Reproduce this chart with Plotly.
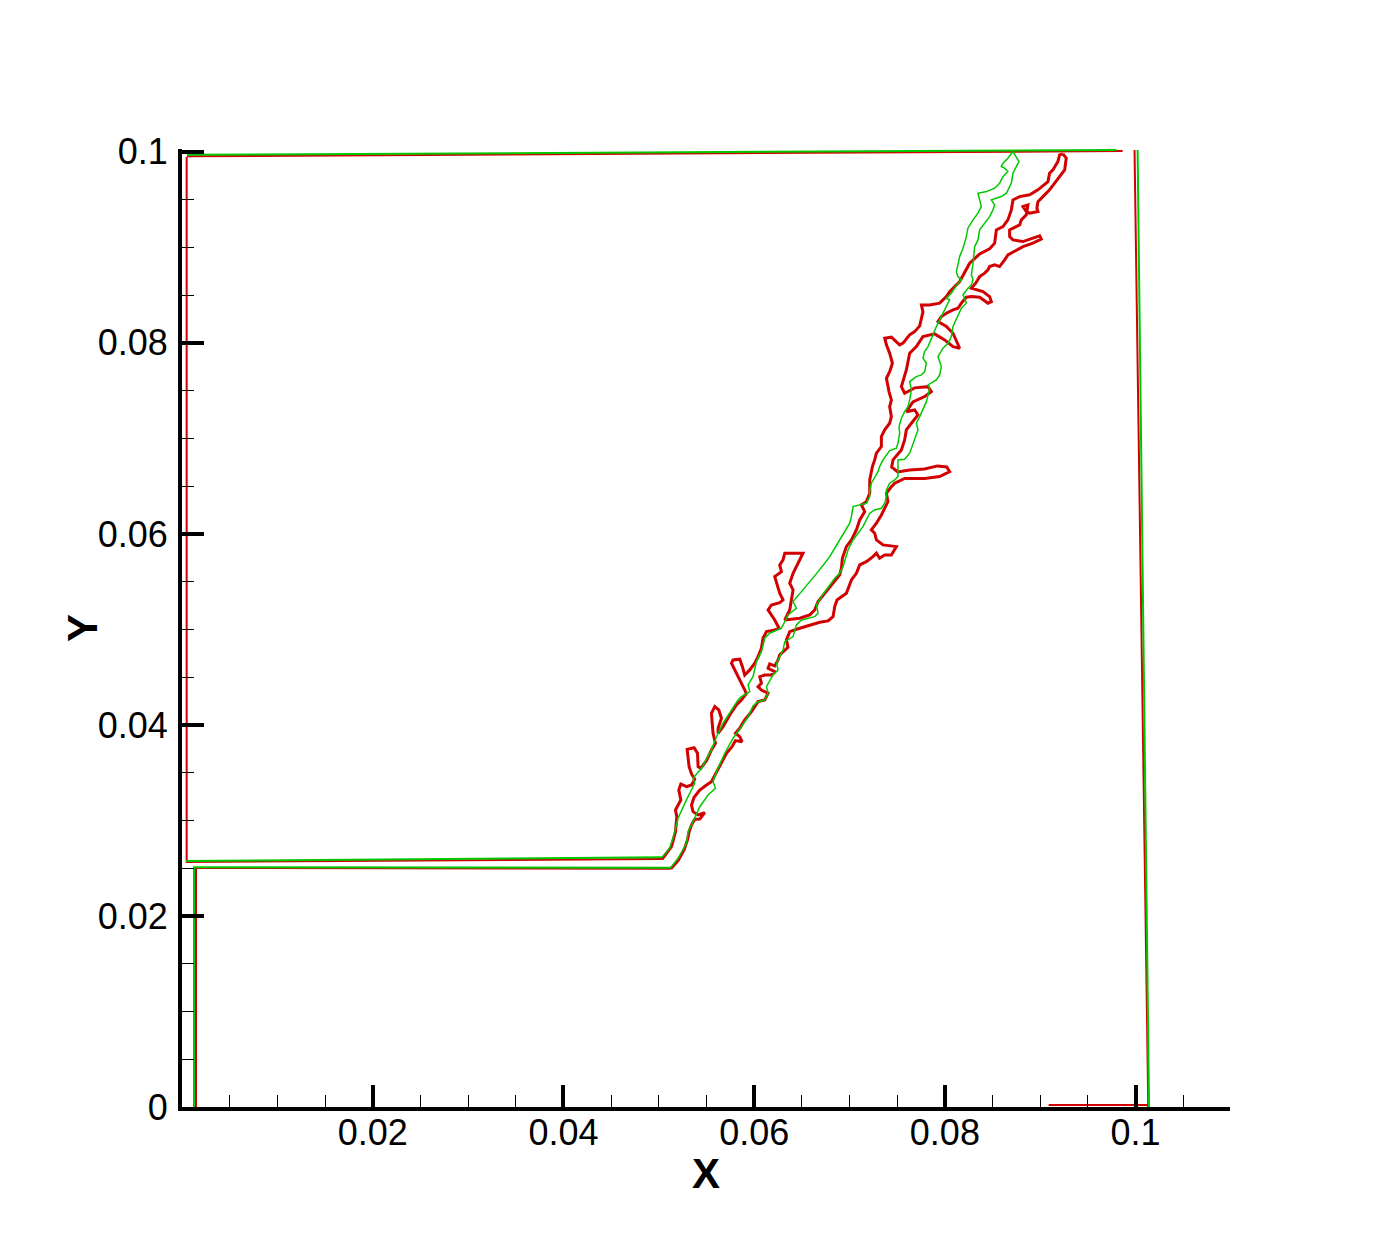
import plotly.graph_objects as go
import numpy as np

# Contour lines, stored in millimetres (axes are metres).
# red = thick level set, green = thin level set
MM = 1e-3

# ---- straight parts of the two level sets ----
red_top_x = [0.52, 98.64]
red_top_y = [99.53, 100.08]
grn_top_x = [0.52, 98.01]
grn_top_y = [99.69, 100.20]

red_right_x = [99.89, 101.33]
red_right_y = [100.20, 0.0]
grn_right_x = [100.21, 101.41]
grn_right_y = [100.20, 0.0]

red_bottom_x = [90.88, 101.33]
red_bottom_y = [0.21, 0.21]

red_shelf_hi_x = [0.49, 0.49, 50.34]
red_shelf_hi_y = [99.47, 25.65, 25.97]
grn_shelf_hi_x = [0.42, 50.34]
grn_shelf_hi_y = [25.76, 26.15]

red_shelf_lo_x = [1.47, 1.47, 51.26]
red_shelf_lo_y = [0.0, 25.03, 24.95]
grn_shelf_lo_x = [1.26, 1.26, 51.26]
grn_shelf_lo_y = [0.0, 25.10, 25.06]

# ---- red, upper-left edge of the shear band (bottom -> top) ----
red_band_a_x = [50.34, 51.33, 51.75, 51.89, 51.75, 52.31, 52.10, 52.31, 52.90, 53.43,
                53.77, 53.43, 53.18, 53.07, 52.97, 53.70, 54.06, 54.12, 54.40, 55.00,
                55.52, 55.94, 55.69, 55.52, 55.87, 56.29, 56.57, 56.22, 56.22, 56.74,
                57.44, 58.14, 58.67, 59.19, 58.84, 58.42, 57.97, 57.62, 57.79, 58.49,
                58.77, 59.01, 59.54, 60.06, 60.41, 60.76, 60.93, 61.29, 62.16, 62.61,
                62.16, 61.46, 61.81, 62.68, 63.03, 62.68, 62.16, 62.86, 62.68, 63.03,
                63.21, 65.12, 64.08, 63.73, 64.08, 63.91, 63.73, 63.21, 64.78, 65.83,
                66.35, 66.70, 67.58, 68.27, 68.97, 69.15, 69.25, 69.67, 70.20, 70.72,
                71.07, 71.59, 71.25, 71.77, 72.12, 72.12, 72.40, 72.64, 72.82, 73.34,
                73.34, 73.69, 74.21, 74.39, 74.21, 74.39, 74.14, 73.87, 74.21, 74.50,
                74.21, 73.87, 73.69, 74.39, 74.91, 75.26, 75.61, 76.31, 76.83, 77.36,
                77.70, 77.54, 78.41, 79.45, 80.16, 80.50, 81.55, 82.60, 83.65, 84.69,
                85.22, 85.40, 86.09, 86.61, 86.97, 87.14, 87.84, 88.89, 89.76, 90.81,
                90.98, 91.33, 91.85, 92.03, 92.38]
red_band_a_y = [25.94, 27.26, 28.83, 30.40, 31.10, 32.15, 33.19, 33.82, 33.54, 33.72,
                34.31, 34.87, 35.63, 36.68, 37.45, 37.62, 37.04, 35.63, 35.47, 36.26,
                37.38, 38.08, 39.13, 41.22, 41.92, 41.57, 40.70, 39.65, 39.13, 39.82,
                41.05, 42.09, 42.62, 43.32, 44.01, 44.89, 45.76, 46.46, 46.81, 46.88,
                46.10, 45.23, 45.76, 46.46, 47.15, 48.03, 49.08, 49.77, 49.95, 50.12,
                50.99, 52.04, 52.56, 52.81, 53.09, 53.79, 55.53, 56.05, 56.75, 57.28,
                57.98, 57.98, 55.88, 54.84, 54.14, 53.09, 52.04, 50.99, 51.17, 51.52,
                52.04, 52.91, 53.96, 54.84, 55.71, 56.41, 57.45, 58.67, 59.37, 60.42,
                61.46, 62.33, 63.04, 63.38, 64.26, 65.65, 67.05, 67.75, 68.45, 69.14,
                70.19, 70.89, 71.59, 72.28, 73.33, 74.03, 74.90, 76.30, 76.99, 77.87,
                78.92, 79.79, 80.49, 80.60, 80.13, 79.79, 79.97, 80.84, 81.18, 81.78,
                83.24, 83.98, 83.98, 84.16, 84.85, 85.37, 86.42, 88.34, 89.32, 89.84,
                90.44, 91.83, 92.18, 92.88, 93.92, 94.97, 95.32, 95.50, 96.02, 96.89,
                97.77, 98.11, 98.98, 99.68, 99.79]

# ---- red, lower-right edge of the shear band (top -> bottom) ----
red_band_b_x = [92.38, 92.73, 92.56, 92.03, 91.51, 90.98, 90.28, 89.76, 89.65, 89.76,
                88.89, 88.54, 88.19, 88.71, 88.54, 88.02, 87.84, 86.79, 86.79, 87.14,
                88.19, 89.94, 90.11, 89.23, 88.19, 87.63, 87.14, 86.61, 86.27, 85.74,
                85.22, 84.69, 84.52, 84.17, 83.65, 83.23, 82.78, 83.30, 83.99, 84.69,
                84.87, 84.52, 83.99, 83.65, 82.78, 82.25, 81.73, 81.37, 80.85, 80.16,
                79.63, 79.28, 80.16, 80.85, 81.55, 80.85, 79.98, 78.93, 77.70, 77.01,
                76.31, 75.96, 75.44, 75.78, 76.83, 78.23, 78.58, 77.88, 76.65, 75.96,
                76.83, 77.18, 76.49, 75.96, 75.78, 75.44, 74.56, 74.42, 75.05, 76.31,
                77.88, 79.24, 80.19, 80.50, 79.45, 77.88, 75.78, 74.74, 74.39, 73.87,
                74.03, 73.69, 73.34, 72.82, 72.29, 72.64, 72.82, 73.51, 74.91, 74.39,
                73.69, 73.16, 72.82, 72.46, 71.77, 71.07, 70.72, 70.20, 69.67, 68.69,
                68.45, 68.27, 67.75, 66.88, 65.83, 64.78, 63.73, 63.38, 63.55, 63.21,
                62.68, 62.51, 62.16, 61.63, 61.46, 62.16, 61.81, 61.11, 60.59, 60.76,
                60.41, 60.76, 61.46, 61.11, 60.41, 59.72, 59.01, 58.49, 58.04, 58.49,
                58.73, 58.04, 57.68, 57.10, 56.57, 56.05, 55.52, 55.00, 54.30, 53.70,
                53.43, 53.59, 54.12, 54.82, 54.30, 53.77, 53.43, 53.18, 53.01, 52.65,
                52.02, 51.26]
red_band_b_y = [99.79, 99.34, 98.11, 97.41, 96.72, 96.02, 95.32, 94.79, 94.10, 93.75,
                93.58, 93.75, 94.27, 94.45, 93.40, 92.88, 92.35, 91.83, 91.13, 90.78,
                90.61, 91.20, 90.86, 90.44, 90.08, 89.74, 89.53, 89.21, 88.69, 87.99,
                88.17, 87.99, 87.64, 87.30, 86.94, 86.25, 85.73, 85.55, 85.37, 84.85,
                84.32, 84.16, 84.50, 84.78, 84.85, 84.78, 84.16, 83.63, 83.45, 83.11,
                82.75, 82.23, 81.71, 81.01, 79.44, 79.61, 80.31, 80.94, 80.66, 79.61,
                78.92, 77.17, 75.42, 74.73, 75.29, 75.42, 74.90, 74.38, 73.82, 72.80,
                72.98, 72.46, 71.59, 70.89, 69.84, 68.79, 67.75, 67.01, 66.49, 66.70,
                66.80, 67.12, 67.01, 66.52, 66.00, 65.81, 65.81, 65.31, 64.95, 64.26,
                63.38, 62.69, 61.99, 61.12, 60.42, 60.07, 59.37, 58.85, 58.67, 57.80,
                57.80, 57.45, 57.98, 57.62, 57.10, 56.75, 55.88, 55.18, 53.79, 53.09,
                52.39, 51.34, 50.89, 50.75, 50.47, 50.12, 49.77, 48.90, 48.13, 47.78,
                47.33, 46.81, 46.18, 46.39, 45.94, 45.58, 45.23, 45.23, 45.06, 44.37,
                44.01, 43.66, 43.32, 42.62, 42.44, 41.39, 40.52, 39.65, 39.13, 38.78,
                38.25, 38.36, 37.73, 37.04, 35.99, 34.94, 34.06, 33.72, 33.19, 32.43,
                31.62, 30.92, 30.58, 30.82, 30.16, 30.12, 29.53, 28.83, 27.96, 26.91,
                25.79, 24.95]

# ---- green, upper-left edge (bottom -> top) ----
grn_band_a_x = [50.34, 51.15, 51.68, 52.02, 52.90, 53.77, 53.59, 54.48, 55.52, 56.05,
                56.74, 57.79, 58.31, 58.67, 59.54, 59.36, 59.88, 60.24, 60.76, 61.11,
                61.63, 62.86, 63.55, 64.43, 64.08, 64.96, 66.17, 66.70, 67.40, 67.92,
                68.45, 68.97, 69.50, 70.02, 70.20, 70.37, 71.07, 71.77, 72.12, 72.12,
                72.29, 72.64, 72.99, 73.16, 73.51, 74.21, 74.91, 75.08, 75.26, 75.19,
                75.44, 75.78, 76.13, 76.31, 76.49, 76.31, 77.01, 77.54, 77.88, 78.06,
                77.70, 77.88, 78.23, 78.75, 79.11, 79.80, 80.50, 80.16, 80.68, 81.37,
                81.73, 81.37, 81.20, 81.37, 81.55, 81.90, 82.25, 82.42, 82.95, 83.47,
                83.82, 83.65, 83.47, 84.35, 85.22, 85.74, 86.09, 86.61, 86.27, 85.92,
                86.09, 86.61, 86.97, 87.14]
grn_band_a_y = [26.15, 27.09, 28.83, 30.23, 32.15, 33.89, 34.42, 35.47, 37.38, 38.77,
                40.18, 41.75, 42.62, 42.96, 43.49, 44.19, 45.06, 46.63, 47.67, 49.08,
                49.60, 50.12, 51.52, 52.22, 52.91, 53.96, 55.36, 56.05, 56.93, 57.62,
                58.50, 59.37, 60.24, 61.12, 61.81, 62.86, 63.04, 63.21, 63.90, 64.61,
                65.31, 66.00, 66.52, 67.05, 67.75, 68.72, 68.97, 69.50, 70.54, 71.24,
                72.11, 72.80, 73.33, 74.03, 75.08, 75.95, 76.47, 76.65, 76.99, 77.87,
                78.40, 79.09, 79.61, 80.84, 81.71, 83.11, 84.50, 84.68, 85.20, 86.25,
                86.60, 86.94, 87.46, 88.17, 89.04, 89.91, 91.13, 92.01, 92.88, 93.58,
                94.27, 94.97, 95.67, 95.84, 96.20, 96.72, 97.41, 97.94, 98.29, 98.46,
                98.82, 99.34, 99.86, 100.03]

# ---- green, lower-right edge (top -> bottom) ----
grn_band_b_x = [87.14, 87.49, 87.77, 87.49, 87.14, 86.97, 86.45, 85.92, 85.40, 84.87,
                85.22, 85.04, 84.69, 84.17, 83.65, 83.47, 83.12, 82.95, 82.78, 82.95,
                82.78, 82.42, 81.90, 82.07, 82.25, 81.73, 80.85, 80.68, 80.32, 79.80,
                79.28, 79.63, 79.45, 79.11, 78.23, 78.41, 78.06, 77.36, 77.01, 77.18,
                76.65, 76.31, 75.78, 75.08, 75.08, 74.74, 74.21, 73.87, 73.87, 73.69,
                73.34, 72.64, 72.12, 71.77, 71.41, 70.89, 70.37, 69.84, 69.50, 69.32,
                68.97, 68.45, 67.05, 66.53, 66.70, 66.35, 64.96, 64.43, 64.08, 63.21,
                63.03, 62.34, 62.51, 61.98, 61.29, 61.46, 61.11, 60.38, 59.88, 59.36,
                58.67, 57.79, 56.92, 56.05, 55.69, 55.94, 55.17, 54.30, 53.59, 53.07,
                52.90, 52.02, 51.26]
grn_band_b_y = [100.03, 99.51, 98.98, 98.46, 97.77, 96.72, 95.67, 95.32, 95.15, 94.97,
                94.45, 93.92, 93.22, 92.53, 91.83, 90.78, 90.08, 88.34, 87.12, 86.60,
                86.07, 85.73, 85.02, 84.68, 84.16, 83.63, 81.71, 80.66, 79.97, 79.44,
                78.56, 77.52, 76.65, 76.12, 75.60, 75.25, 73.85, 72.28, 71.59, 70.89,
                69.32, 68.45, 67.82, 67.75, 66.00, 65.65, 65.31, 64.61, 63.90, 63.21,
                62.69, 62.51, 62.17, 61.46, 60.76, 60.07, 59.37, 58.32, 57.28, 56.57,
                55.88, 55.36, 53.43, 52.56, 51.69, 51.34, 50.99, 50.47, 49.25, 48.72,
                47.85, 46.46, 45.76, 45.23, 44.01, 43.32, 42.62, 42.41, 41.99, 40.84,
                39.82, 38.61, 37.04, 35.11, 34.06, 33.37, 32.67, 31.44, 29.87, 28.83,
                27.61, 26.04, 25.06]

RED = '#d20000'
GREEN = '#00c800'


def line(xs, ys, color, width):
    return go.Scatter(
        x=np.array(xs) * MM, y=np.array(ys) * MM,
        mode='lines',
        line=dict(color=color, width=width),
        hoverinfo='skip',
        showlegend=False
    )


fig = go.Figure()

# red first, green drawn over it
for xs, ys in [(red_top_x, red_top_y), (red_right_x, red_right_y),
               (red_bottom_x, red_bottom_y), (red_shelf_hi_x, red_shelf_hi_y),
               (red_shelf_lo_x, red_shelf_lo_y)]:
    fig.add_trace(line(xs, ys, RED, 2))
fig.add_trace(line(red_band_a_x, red_band_a_y, RED, 3))
fig.add_trace(line(red_band_b_x, red_band_b_y, RED, 3))

for xs, ys in [(grn_top_x, grn_top_y), (grn_right_x, grn_right_y),
               (grn_shelf_hi_x, grn_shelf_hi_y), (grn_shelf_lo_x, grn_shelf_lo_y)]:
    fig.add_trace(line(xs, ys, GREEN, 2))
fig.add_trace(line(grn_band_a_x, grn_band_a_y, GREEN, 1.5))
fig.add_trace(line(grn_band_b_x, grn_band_b_y, GREEN, 1.5))

tick_font = dict(family='Liberation Sans, Arial, sans-serif', size=36, color='black')
title_font = dict(family='Liberation Sans, Arial, sans-serif', size=42, color='black')

axis_common = dict(
    showline=True, linewidth=4, linecolor='black',
    ticks='inside', ticklen=22, tickwidth=4, tickcolor='black',
    minor=dict(ticks='inside', ticklen=12, tickwidth=1, tickcolor='black',
               dtick=0.005, tick0=0, showgrid=False),
    showgrid=False, zeroline=False, mirror=False,
    tickfont=tick_font,
)

fig.update_layout(
    width=1400, height=1245,
    # the page body adds 8 px on the left and top
    margin=dict(l=174, r=178, t=141, b=146, autoexpand=False),
    paper_bgcolor='white', plot_bgcolor='white',
    showlegend=False,
    xaxis=dict(
        range=[0, 0.1099],
        tickvals=[0, 0.02, 0.04, 0.06, 0.08, 0.1],
        ticktext=['', '0.02', '0.04', '0.06', '0.08', '0.1'],
        ticklabelstandoff=-9,
        **axis_common
    ),
    yaxis=dict(
        range=[0, 0.1003],
        tickvals=[0, 0.02, 0.04, 0.06, 0.08, 0.1],
        ticktext=['0', '0.02', '0.04', '0.06', '0.08', '0.1'],
        ticklabelstandoff=3,
        **axis_common
    ),
    annotations=[
        dict(text='<b>X</b>', font=title_font, showarrow=False,
             xref='paper', yref='paper', x=0.5, y=0,
             xanchor='center', yanchor='middle', yshift=-66),
        dict(text='<b>Y</b>', font=title_font, showarrow=False, textangle=-90,
             xref='paper', yref='paper', x=0, y=0.5,
             xanchor='center', yanchor='middle', xshift=-100),
    ],
)

fig.write_html("out.html")
